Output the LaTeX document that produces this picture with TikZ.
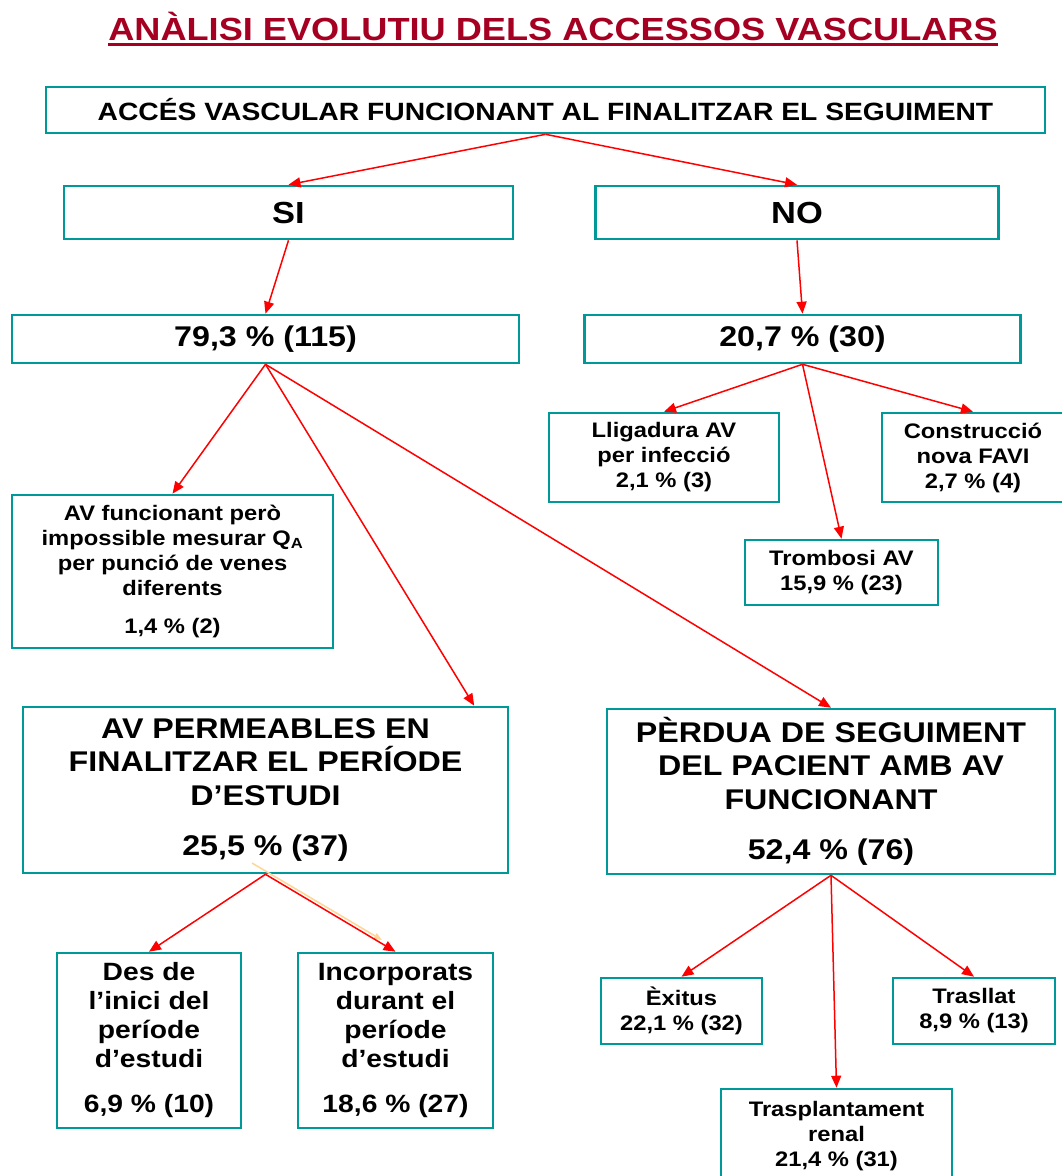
\documentclass[tikz,border=0pt]{standalone}
\usepackage{fontspec}
\setmainfont{Liberation Sans}[FakeStretch=1.13]
\usetikzlibrary{positioning, calc, arrows.meta}
\definecolor{vteal}{RGB}{0,153,153}
\definecolor{titlered}{RGB}{165,0,33}
\definecolor{paleorange}{RGB}{255,214,150}

\begin{document}
\begin{tikzpicture}[x=1pt, y=-1pt,
    vbox/.style={draw=vteal, line width=2.6pt, fill=white, align=center, inner sep=0pt},
    fsmall/.style={font=\fontsize{21}{25}\selectfont\bfseries},
    fmid/.style={font=\fontsize{25}{29}\selectfont\bfseries},
    fbig/.style={font=\fontsize{28.5}{33.5}\selectfont\bfseries},
    redarr/.style={red, line width=1.5pt, -{Triangle[length=12pt, width=10pt]}}]
    \useasboundingbox (0,0) rectangle (1062,1176);

    \node[anchor=base, inner sep=0pt, text=titlered, font=\fontsize{32}{36}\selectfont\bfseries] (title) at (553,40) {ANÀLISI EVOLUTIU DELS ACCESSOS VASCULARS};
    \draw[titlered, line width=3pt] ($(title.base west)+(0,4)$) -- ($(title.base east)+(0,4)$);

    \node[vbox, minimum width=999pt, minimum height=46pt, font=\fontsize{25}{30}\selectfont\bfseries] (top) at (545.5,110) {ACCÉS VASCULAR FUNCIONANT AL FINALITZAR EL SEGUIMENT};

    \node[vbox, minimum width=449pt, minimum height=53pt, font=\fontsize{30.5}{34}\selectfont\bfseries] (si) at (288.5,212.5) {SI};
    \node[vbox, minimum width=403pt, minimum height=53pt, font=\fontsize{30.5}{34}\selectfont\bfseries] (no) at (797,212.5) {NO};

    \node[vbox, fbig, minimum width=507pt, minimum height=48pt] (psi) at (265.5,339) {79,3 \% (115)};
    \node[vbox, fbig, minimum width=436pt, minimum height=48pt] (pno) at (802.5,339) {20,7 \% (30)};

    \node[vbox, fsmall, minimum width=230pt, minimum height=89pt] (lliga) at (664,457.5) {Lligadura AV\\per infecció\\2,1 \% (3)};
    \node[vbox, fsmall, minimum width=182pt, minimum height=89pt] (favi) at (973,457.5) {Construcció\\nova FAVI\\2,7 \% (4)};
    \node[vbox, fsmall, minimum width=193pt, minimum height=65pt] (tromb) at (841.5,572.5) {Trombosi AV\\15,9 \% (23)};

    \node[vbox, fsmall, minimum width=321pt, minimum height=153pt] (qa) at (172.5,571.5) {AV funcionant però\\impossible mesurar Q\textsubscript{A}\\per punció de venes\\diferents\\[13pt]1,4 \% (2)};

    \node[vbox, fbig, minimum width=485pt, minimum height=166pt] (perm) at (265.5,790) {AV PERMEABLES EN\\FINALITZAR EL PERÍODE\\D’ESTUDI\\[17pt]25,5 \% (37)};
    \node[vbox, fbig, minimum width=448pt, minimum height=165pt] (perd) at (831,791.5) {PÈRDUA DE SEGUIMENT\\DEL PACIENT AMB AV\\FUNCIONANT\\[17pt]52,4 \% (76)};

    \node[vbox, fmid, minimum width=184pt, minimum height=175pt] (inici) at (149,1040.5) {Des de\\l’inici del\\període\\d’estudi\\[16pt]6,9 \% (10)};
    \node[vbox, fmid, minimum width=195pt, minimum height=175pt] (incorp) at (395.5,1040.5) {Incorporats\\durant el\\període\\d’estudi\\[16pt]18,6 \% (27)};

    \node[vbox, fsmall, minimum width=161pt, minimum height=66pt] (exitus) at (681.5,1011) {Èxitus\\22,1 \% (32)};
    \node[vbox, fsmall, minimum width=162pt, minimum height=66pt] (trasll) at (974,1011) {Trasllat\\8,9 \% (13)};
    \node[vbox, fsmall, minimum width=231pt, minimum height=95pt] (trasp) at (836.5,1136.5) {Trasplantament\\renal\\21,4 \% (31)};

    \draw[redarr] (top.south) -- (si.north);
    \draw[redarr] (top.south) -- (no.north);
    \draw[redarr] (si.south) -- (psi.north);
    \draw[redarr] (no.south) -- (pno.north);

    \draw[redarr] (psi.south) -- (qa.north);
    \draw[redarr] (psi.south) -- ($(perm.north west)!0.928!(perm.north east)$);
    \draw[redarr] (psi.south) -- (perd.north);

    \draw[redarr] (pno.south) -- (lliga.north);
    \draw[redarr] (pno.south) -- (tromb.north);
    \draw[redarr] (pno.south) -- (favi.north);

    \coordinate (faintA) at (252,863);
    \coordinate (faintB) at (382,940);
    \draw[paleorange, line width=1.5pt, -{Triangle[length=8pt, width=6pt]}] (faintA) -- (faintB);

    \draw[redarr] (perm.south) -- (inici.north);
    \draw[redarr] (perm.south) -- (incorp.north);

    \draw[redarr] (perd.south) -- (exitus.north);
    \draw[redarr] (perd.south) -- (trasp.north);
    \draw[redarr] (perd.south) -- (trasll.north);
\end{tikzpicture}
\end{document}
